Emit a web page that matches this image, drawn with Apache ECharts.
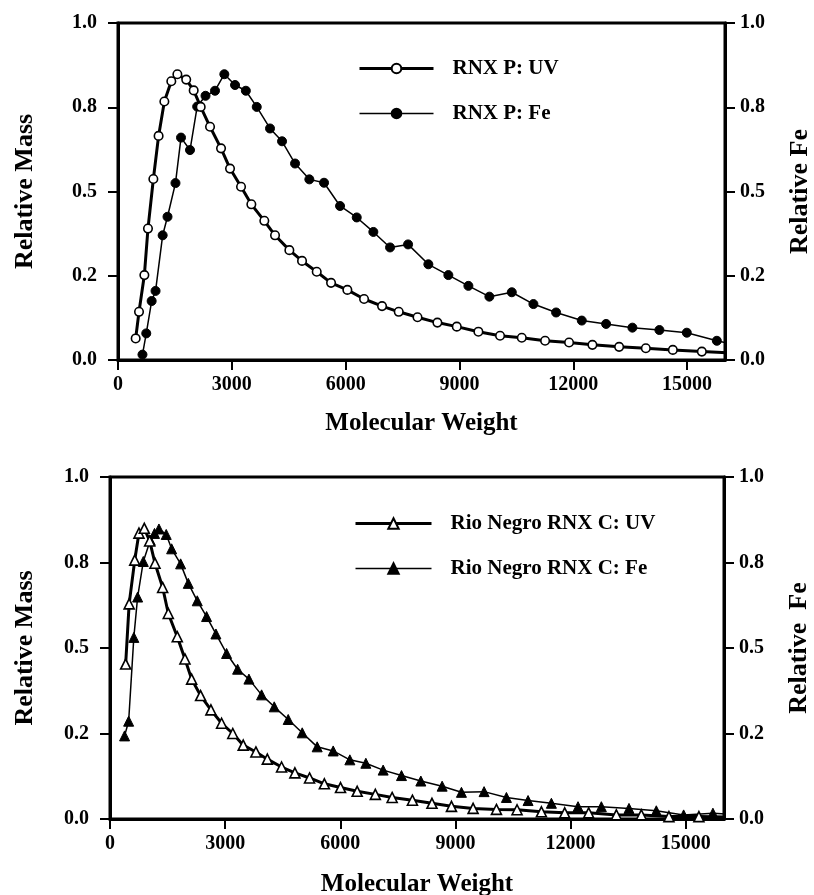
<!DOCTYPE html>
<html>
<head>
<meta charset="utf-8">
<script src="https://cdn.jsdelivr.net/npm/echarts@6/dist/echarts.min.js"></script>
<style>html,body{margin:0;padding:0;background:#fff}#c{width:814px;height:895px}</style>
</head>
<body>
<div id="c"></div>
<script>
// ---- Data ----
const xTicks = [0, 3000, 6000, 9000, 12000, 15000];
const yTicks = [0, 0.25, 0.5, 0.75, 1.0];
const yTickLabels = ['0.0', '0.2', '0.5', '0.8', '1.0'];

const seriesNames = ['RNX P: UV', 'RNX P: Fe', 'Rio Negro RNX C: UV', 'Rio Negro RNX C: Fe'];

// Top panel, UV (relative mass)
const rnxP_UV = [
  [466,0.064],[554,0.143],[695,0.252],[790,0.390],[932,0.537],[1070,0.665],[1222,0.767],
  [1405,0.827],[1565,0.848],[1798,0.832],[1995,0.800],[2180,0.751],[2426,0.692],[2716,0.628],
  [2953,0.568],[3243,0.514],[3515,0.462],[3857,0.413],[4139,0.370],[4517,0.326],[4851,0.294],
  [5238,0.262],[5616,0.229],[6046,0.208],[6486,0.181],[6960,0.160],[7400,0.143],[7895,0.127],
  [8419,0.111],[8930,0.099],[9500,0.084],[10071,0.072],[10643,0.066],[11258,0.057],[11890,0.052],
  [12505,0.045],[13209,0.039],[13913,0.035],[14625,0.030],[15389,0.025],[16300,0.020]
];
// Top panel, Fe
const rnxP_Fe = [
  [645,0.016],[745,0.079],[887,0.175],[990,0.205],[1177,0.370],[1305,0.425],[1515,0.525],
  [1661,0.660],[1898,0.623],[2087,0.752],[2307,0.784],[2557,0.799],[2803,0.848],[3085,0.816],
  [3370,0.799],[3657,0.751],[4007,0.687],[4324,0.649],[4667,0.583],[5044,0.536],[5431,0.526],
  [5853,0.457],[6293,0.423],[6731,0.380],[7171,0.334],[7646,0.343],[8181,0.284],[8708,0.252],
  [9236,0.220],[9789,0.188],[10380,0.201],[10950,0.166],[11548,0.141],[12225,0.117],[12866,0.107],
  [13559,0.096],[14271,0.089],[14993,0.081],[15785,0.057],[16500,0.040]
];
// Bottom panel, UV
const rnxC_UV = [
  [408,0.453],[499,0.629],[645,0.757],[755,0.836],[894,0.850],[1033,0.813],[1172,0.748],
  [1372,0.677],[1519,0.601],[1753,0.533],[1953,0.468],[2127,0.409],[2361,0.361],[2630,0.319],
  [2908,0.280],[3200,0.250],[3472,0.216],[3802,0.196],[4100,0.175],[4471,0.152],[4818,0.135],
  [5200,0.120],[5586,0.103],[6007,0.092],[6441,0.081],[6914,0.072],[7352,0.063],[7880,0.055],
  [8390,0.046],[8898,0.037],[9462,0.031],[10070,0.028],[10607,0.027],[11242,0.021],[11849,0.018],
  [12474,0.018],[13195,0.012],[13846,0.012],[14565,0.007],[15346,0.007],[16300,0.005]
];
// Bottom panel, Fe
const rnxC_Fe = [
  [380,0.243],[486,0.286],[621,0.531],[720,0.649],[868,0.753],[1050,0.815],[1160,0.835],
  [1275,0.848],[1465,0.832],[1606,0.790],[1840,0.746],[2040,0.689],[2274,0.638],[2517,0.592],
  [2760,0.541],[3038,0.484],[3325,0.438],[3620,0.409],[3950,0.363],[4280,0.328],[4644,0.291],
  [5009,0.252],[5399,0.211],[5816,0.199],[6250,0.173],[6667,0.163],[7118,0.143],[7596,0.127],
  [8100,0.111],[8655,0.096],[9158,0.078],[9748,0.080],[10330,0.063],[10894,0.054],[11502,0.046],
  [12196,0.036],[12804,0.036],[13524,0.031],[14236,0.024],[14948,0.012],[15711,0.017],[16400,0.012]
];

// ---- Chart ----
const FONT = 'Liberation Serif';
const chart = echarts.init(document.getElementById('c'), null, {renderer: 'canvas'});

function xAxis(gi, gap) {
  return {
    type: 'value', gridIndex: gi, min: 0, max: 16000,
    name: 'Molecular Weight', nameLocation: 'middle', nameGap: gap,
    nameTextStyle: {fontFamily: FONT, fontWeight: 'bold', fontSize: 25, color: '#000'},
    axisLine: {show: true, lineStyle: {color: '#000', width: 3}},
    axisTick: {show: true, length: 10, lineStyle: {color: '#000', width: 2}, customValues: xTicks},
    axisLabel: {customValues: xTicks, margin: 15, fontFamily: FONT, fontWeight: 'bold', fontSize: 20, color: '#000',
      formatter: v => String(v)},
    splitLine: {show: false}
  };
}
function yAxis(gi, pos, name, gap, margin) {
  return {
    type: 'value', gridIndex: gi, position: pos, min: 0, max: 1,
    name: name, nameLocation: 'middle', nameGap: gap,
    nameTextStyle: {fontFamily: FONT, fontWeight: 'bold', fontSize: 26, color: '#000'},
    axisLine: {show: true, onZero: false, lineStyle: {color: '#000', width: 3}},
    axisTick: {show: true, length: 10, lineStyle: {color: '#000', width: 2}, customValues: yTicks},
    axisLabel: {customValues: yTicks, margin: margin, fontFamily: FONT, fontWeight: 'bold', fontSize: 20, color: '#000',
      formatter: v => yTickLabels[Math.round(v * 4)]},
    splitLine: {show: false}
  };
}
function uvSeries(name, data, xi, yi, sym, size) {
  return {
    name, type: 'line', data, xAxisIndex: xi, yAxisIndex: yi, z: 3,
    symbol: sym, symbolSize: size, showAllSymbol: true,
    itemStyle: {color: '#fff', borderColor: '#000', borderWidth: 1.6},
    lineStyle: {color: '#000', width: 3},
    emphasis: {disabled: true}
  };
}
function feSeries(name, data, xi, yi, sym, size) {
  return {
    name, type: 'line', data, xAxisIndex: xi, yAxisIndex: yi, z: 2,
    symbol: sym, symbolSize: size, showAllSymbol: true,
    itemStyle: {color: '#000', borderColor: '#000', borderWidth: 1},
    lineStyle: {color: '#000', width: 1.5},
    emphasis: {disabled: true}
  };
}
const legendText = {fontFamily: FONT, fontWeight: 'bold', fontSize: 21, color: '#000', padding: [0, 0, 0, 14]};

chart.setOption({
  animation: false,
  backgroundColor: '#fff',
  grid: [
    {left: 118, top: 23, width: 607, height: 337, show: true, borderColor: '#000', borderWidth: 3,
     backgroundColor: 'transparent', containLabel: false, outerBoundsMode: 'none'},
    {left: 110, top: 477, width: 614, height: 342, show: true, borderColor: '#000', borderWidth: 3,
     backgroundColor: 'transparent', containLabel: false, outerBoundsMode: 'none'}
  ],
  legend: [
    {data: [seriesNames[0], seriesNames[1]], orient: 'vertical', left: 353, top: 53, itemWidth: 74, itemHeight: 12,
     itemGap: 24, textStyle: legendText, selectedMode: false, lineStyle: {width: 'inherit'}},
    {data: [seriesNames[2], seriesNames[3]], orient: 'vertical', left: 349, top: 508, itemWidth: 76, itemHeight: 13,
     itemGap: 24, textStyle: legendText, selectedMode: false, lineStyle: {width: 'inherit'}}
  ],
  xAxis: [xAxis(0, 51), xAxis(1, 53)],
  yAxis: [
    yAxis(0, 'left', 'Relative Mass', 80, 21),
    yAxis(0, 'right', 'Relative Fe', 62, 15),
    yAxis(1, 'left', 'Relative Mass', 72, 21),
    yAxis(1, 'right', 'Relative  Fe', 62, 15)
  ],
  series: [
    feSeries(seriesNames[1], rnxP_Fe, 0, 1, 'circle', 9),
    uvSeries(seriesNames[0], rnxP_UV, 0, 0, 'circle', 8.5),
    feSeries(seriesNames[3], rnxC_Fe, 1, 3, 'triangle', 10),
    uvSeries(seriesNames[2], rnxC_UV, 1, 2, 'triangle', 10)
  ]
});
</script>
</body>
</html>
